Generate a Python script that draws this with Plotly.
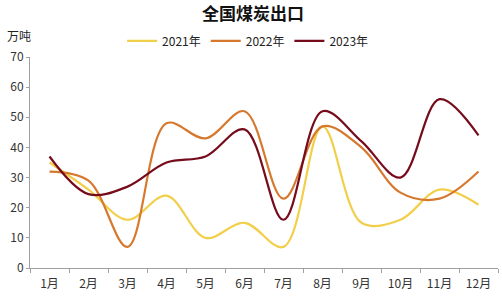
import plotly.graph_objects as go

months = ["1月", "2月", "3月", "4月", "5月", "6月", "7月", "8月", "9月", "10月", "11月", "12月"]
y2021 = [35, 26, 16, 24, 10, 15, 7, 47, 15, 16, 26, 21]
y2022 = [32, 29, 7, 48, 43, 52, 23, 47, 40, 25, 23, 32]
y2023 = [37, 24.5, 27, 35, 37, 46, 16, 52, 42, 30, 56, 44]

series = [("2021年", y2021, "#F2CF4B"), ("2022年", y2022, "#D6792E"), ("2023年", y2023, "#760B1C")]

fig = go.Figure()
for name, vals, color in series:
    fig.add_trace(go.Scatter(x=months, y=vals, name=name, mode="lines",
                             line=dict(color=color, width=2.2, shape="spline", smoothing=1.0)))

font = "Noto Sans CJK SC, sans-serif"
fig.update_layout(
    width=502, height=298,
    margin=dict(l=30, r=4, t=57, b=30),
    paper_bgcolor="white", plot_bgcolor="white",
    font=dict(family=font, size=11, color="#333333"),
    title=dict(text="<b>全国煤炭出口</b>", x=0.504, xanchor="center", y=0.953, yanchor="middle",
               font=dict(size=17, color="#111111", family=font)),
    legend=dict(orientation="h", x=0.465, xanchor="center", y=1.076, yanchor="middle",
                font=dict(size=12, color="#222222"), itemwidth=30, tracegroupgap=0),
    showlegend=True,
)
fig.update_xaxes(type="category", range=[-0.5, 11.5], showline=True, linecolor="#A0A0A0", linewidth=1,
                 ticks="outside", ticklen=4, tickcolor="#A0A0A0", tickson="boundaries", showgrid=False,
                 ticklabelstandoff=5, tickfont=dict(size=12, color="#333333"))
fig.update_yaxes(range=[0, 70], dtick=10, showline=True, linecolor="#A0A0A0", linewidth=1,
                 ticks="outside", ticklen=3, tickcolor="#A0A0A0", showgrid=False, zeroline=False,
                 tickfont=dict(size=12, color="#333333"))
fig.add_annotation(text="万吨", x=0.0, y=1.0, xref="paper", yref="paper", xanchor="left", yanchor="middle",
                   xshift=-25, yshift=22, showarrow=False, font=dict(size=12, color="#222222"))
fig.write_html("out.html")
